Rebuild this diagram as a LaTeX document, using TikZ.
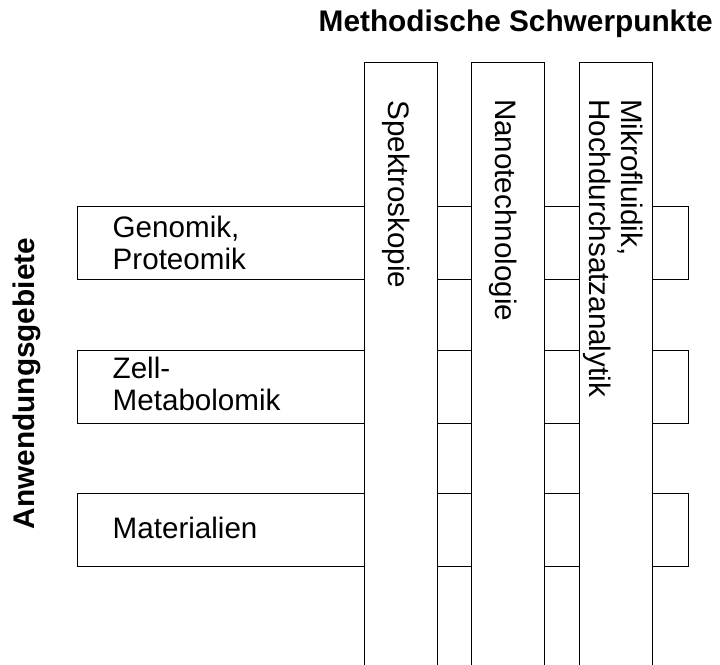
\documentclass[tikz,border=0pt]{standalone}
\usepackage{fontspec}
\setmainfont{Liberation Sans}
\begin{document}
\begin{tikzpicture}[x=1pt,y=-1pt,
  bar/.style={draw=black, line width=0.9pt, fill=white, rectangle, inner sep=0pt},
  rowbar/.style={bar, minimum width=610.7pt, minimum height=73pt},
  colbar/.style={bar, minimum width=73pt, minimum height=617pt},
  lbl/.style={font=\fontsize{29.6}{32}\selectfont, inner sep=0pt, align=left, anchor=base west},
  head/.style={font=\bfseries\fontsize{29.8}{32}\selectfont, inner sep=0pt, anchor=base west}]
  \clip (0,0) rectangle (720,664);
  % application rows, drawn first so the method columns cover them
  \node[rowbar] (row1) at (382.65,242.65) {};
  \node[rowbar] (row2) at (382.65,386.7) {};
  \node[rowbar] (row3) at (382.65,530) {};
  % method columns
  \node[colbar] (col1) at (400.8,371.2) {};
  \node[colbar] (col2) at (508.35,371.2) {};
  \node[colbar] (col3) at (615.8,371.2) {};
  % row labels (base anchor sits on the last line)
  \node[lbl] (t1) at (112.5,269.3) {Genomik,\\Proteomik};
  \node[lbl] (t2) at (112.5,410.8) {Zell-\\Metabolomik};
  \node[lbl] (t3) at (112.5,538.3) {Materialien};
  % column labels, read from top to bottom
  \node[lbl, rotate=-90] (c1) at (388.4,100.3) {Spektroskopie};
  \node[lbl, rotate=-90] (c2) at (495,98.8) {Nanotechnologie};
  \node[lbl, rotate=-90] (c3) at (589.8,99) {Mikrofluidik,\\Hochdurchsatzanalytik};
  % axis titles
  \node[head] (htop) at (318.5,31) {Methodische Schwerpunkte};
  \node[head, rotate=90] (hleft) at (34.5,529.5) {Anwendungsgebiete};
\end{tikzpicture}
\end{document}
